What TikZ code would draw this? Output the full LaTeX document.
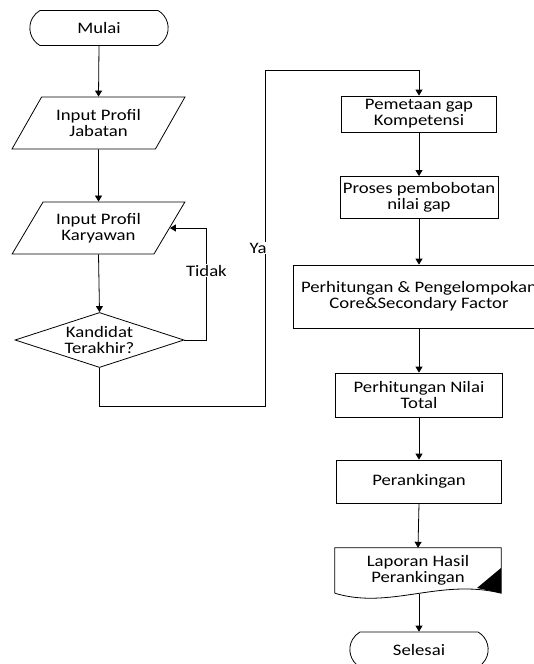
\documentclass[tikz,border=0pt]{standalone}
\usepackage{fontspec}
\setmainfont{Carlito}[FakeStretch=1.17]
\usetikzlibrary{arrows.meta, positioning, shapes.geometric, shapes.misc}

\begin{document}
\begin{tikzpicture}[x=1pt, y=-1pt,
    every node/.style={font=\fontsize{16}{16}\selectfont, align=center},
    term/.style={draw, rounded rectangle, rounded rectangle arc length=120,
        minimum width=145pt, minimum height=35pt, line width=0.8pt},
    io/.style={draw, trapezium, trapezium left angle=55, trapezium right angle=125,
        trapezium stretches=true, minimum width=173pt, minimum height=52pt, line width=0.8pt},
    proc/.style={draw, rectangle, inner sep=1pt, line width=0.8pt},
    flow/.style={-{Triangle[width=7pt,length=6pt]}, line width=0.8pt},
    branch/.style={fill=white, inner sep=1pt}]
    \useasboundingbox (0,0) rectangle (534,664);

    % left column
    \node[term] (mulai) at (99,28) {Mulai};
    \node[io] (jabatan) at (98.5,123) {Input Profil\\Jabatan};
    \node[io] (karyawan) at (98.5,228) {Input Profil\\Karyawan};
    \node[draw, diamond, minimum width=169pt, minimum height=55pt, inner sep=0pt, line width=0.8pt,
        label={[align=center]center:Kandidat\\Terakhir?}] (cek) at (99.5,340) {};

    % right column
    \node[proc, minimum width=155pt, minimum height=36pt] (gap) at (419,114) {Pemetaan gap\\Kompetensi};
    \node[proc, minimum width=158pt, minimum height=42pt] (bobot) at (419,197.5) {Proses pembobotan\\nilai gap};
    \node[proc, minimum width=252pt, minimum height=63pt] (faktor) at (419,296.5) {Perhitungan \& Pengelompokan\\Core\&Secondary Factor};
    \node[proc, minimum width=167pt, minimum height=44pt] (total) at (419,395) {Perhitungan Nilai\\Total};
    \node[proc, minimum width=165pt, minimum height=43pt] (ranking) at (419,481.5) {Perankingan};
    \node[minimum width=166pt, minimum height=45pt] (laporan) at (418,570.5) {Laporan Hasil\\Perankingan};
    \node[term] (selesai) at (419,649.5) {Selesai};

    % document outline with wavy bottom
    \draw[line width=0.8pt] (laporan.south west) -- (laporan.north west) -- (laporan.north east)
        -- (laporan.south east) .. controls (440,578) and (390,610) .. (laporan.south west);
    \fill (477,588) -- (laporan.south east) -- (501,568) -- cycle;
    \coordinate (lapbot) at (419,594);

    % connectors
    \draw[flow] (mulai.south) -- (jabatan.north);
    \draw[flow] (jabatan.south) -- (karyawan.north);
    \draw[flow] (karyawan.south) -- (cek.north);
    \draw[flow] (cek.east) -- ++(22,0) |- node[pos=0.31, branch] (tidak) {Tidak} (karyawan.east);
    \coordinate (ya1) at (265,406);
    \coordinate (ya2) at (265,70);
    \draw[flow] (cek.south) |- (ya1) -- node[pos=0.47, branch, anchor=east, xshift=3pt] (ya) {Ya} (ya2) -| (gap.north);
    \draw[flow] (gap.south) -- (bobot.north);
    \draw[flow] (bobot.south) -- (faktor.north);
    \draw[flow] (faktor.south) -- (total.north);
    \draw[flow] (total.south) -- (ranking.north);
    \draw[flow] (ranking.south) -- (laporan.north);
    \draw[flow] (lapbot) -- (selesai.north);
\end{tikzpicture}
\end{document}
